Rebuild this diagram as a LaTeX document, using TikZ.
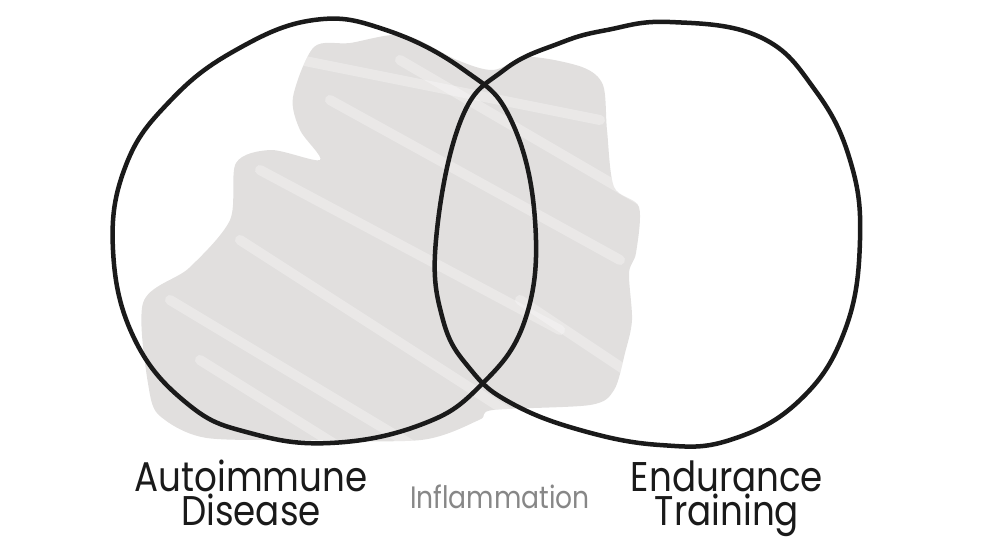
\documentclass[tikz,border=0pt]{standalone}
\usepackage{fontspec}
\setmainfont{Poppins}[FakeStretch=0.86]
\usetikzlibrary{positioning}
\definecolor{scribble}{RGB}{225,223,222}
\definecolor{ink}{RGB}{26,26,26}
\definecolor{faded}{RGB}{135,135,135}
\tikzset{
    ring/.style={ink,line width=0.045cm,line join=round},
    setlabel/.style={ink,align=center,inner sep=0pt,font=\fontsize{11.8}{9.4}\selectfont},
    midlabel/.style={faded,inner sep=0pt,font=\fontsize{8.8}{10}\selectfont}
}

\begin{document}
\begin{tikzpicture}[x=0.01cm,y=-0.01cm]
            \useasboundingbox (0,0) rectangle (1000,551);
            \begin{scope}
                \path[clip] plot[smooth cycle,tension=0.5] coordinates {(314,47) (350,43) (404,35) (457,60) (493,70) (529,57) (582,67) (603,85) (607,130) (614,187) (639,207) (636,253) (629,273) (632,320) (625,353) (614,390) (590,405) (493,410) (479,420) (421,440) (300,440) (207,438) (165,420) (150,395) (143,303) (189,268) (230,220) (236,163) (271,150) (320,160) (300,130) (293,97)};
                \fill[scribble] (0,0) rectangle (1000,551);
                \foreach \xa/\ya/\xb/\yb in {300/60/600/120, 260/170/560/330, 240/240/520/420, 170/300/420/450, 330/100/620/260, 400/60/640/200, 200/360/360/460, 520/300/640/380} {
                    \draw[white,opacity=0.3,line width=0.1cm,line cap=round] (\xa,\ya) -- (\xb,\yb);
                }
            \end{scope}
            \draw[ring] plot[smooth cycle,tension=0.7] coordinates {(113,250) (126,165) (171,100) (236,50) (314,20) (386,30) (464,70) (511,120) (535,220) (525,320) (479,387) (420,425) (330,443) (250,433) (189,405) (135,340)};
            \draw[ring] plot[smooth cycle,tension=0.7] coordinates {(436,240) (461,120) (504,70) (560,43) (607,30) (670,22) (760,37) (815,90) (850,160) (860,240) (845,330) (800,400) (730,440) (660,445) (580,430) (511,403) (471,370) (443,320)};
            \node[setlabel,anchor=base] (autoimmune) at (251,525) {Autoimmune\\Disease};
            \node[setlabel,anchor=base] (endurance) at (727,525) {Endurance\\Training};
            \node[midlabel,anchor=base] (inflammation) at (500,508) {Inflammation};
        \end{tikzpicture}
\end{document}
